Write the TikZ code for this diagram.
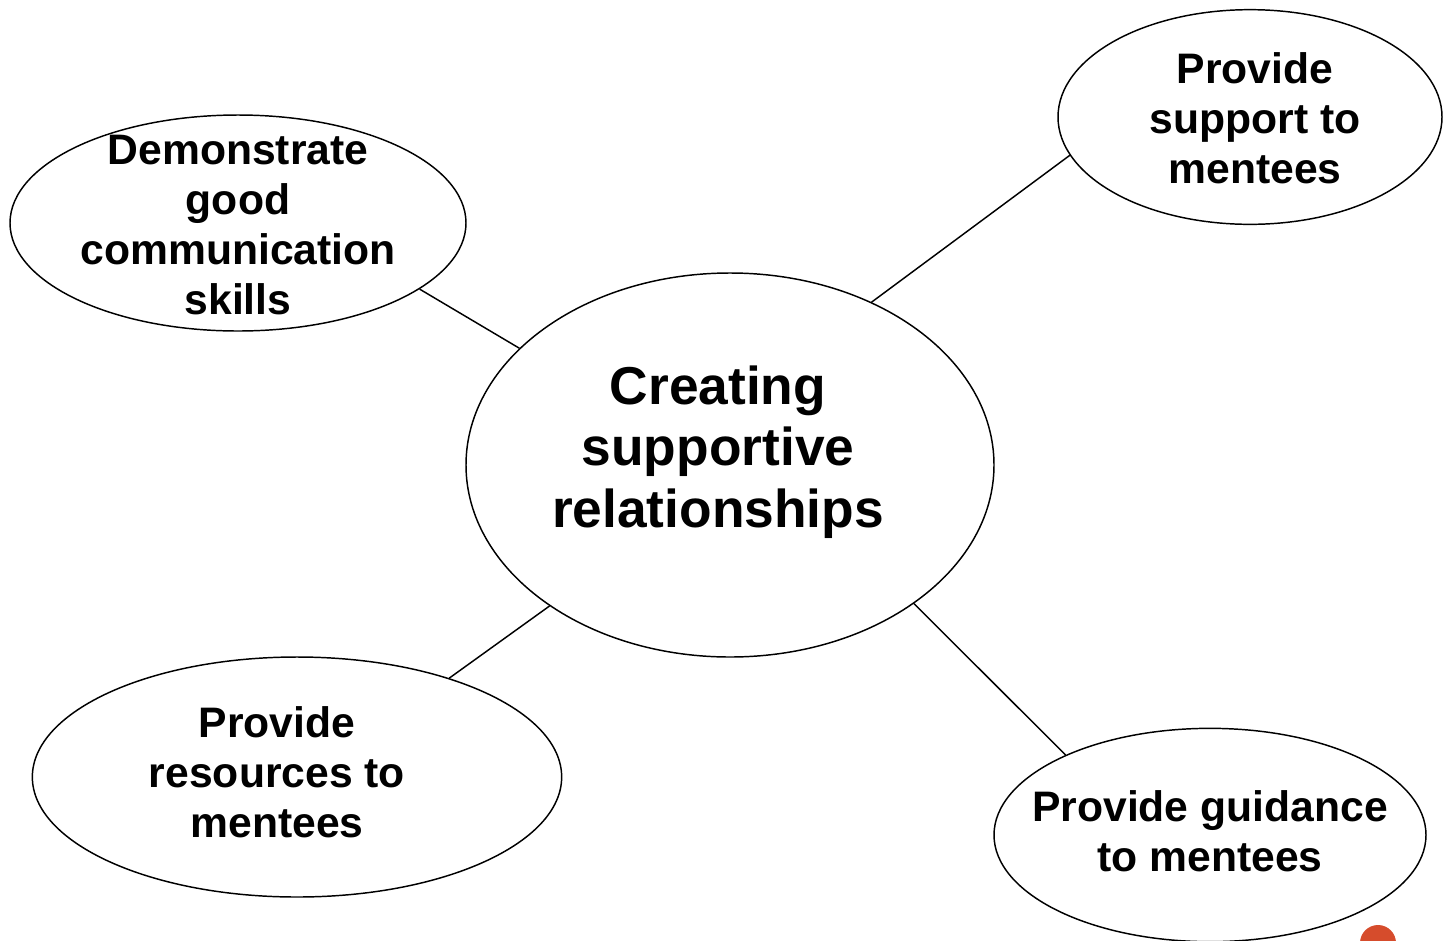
\documentclass[tikz,border=0pt]{standalone}
\usepackage{fontspec}
\setmainfont{Liberation Sans}
\usetikzlibrary{shapes.geometric}

\definecolor{dotred}{RGB}{214,76,44}

\tikzset{
  bubble/.style={draw, ellipse, line width=1.1pt, inner sep=0pt},
  caption/.style={font=\bfseries\fontsize{32}{37.5}\selectfont, align=center, inner sep=0pt},
  spoke/.style={line width=1.1pt}
}

\begin{document}
\begin{tikzpicture}[x=0.75pt,y=0.75pt,yscale=-1,xscale=1]
\useasboundingbox (0,0) rectangle (1453,940);

%Ellipses
\node [bubble, minimum width=396pt, minimum height=288pt] (hub) at (730,465) {};
\node [bubble, minimum width=342pt, minimum height=162pt] (demo) at (238,223) {};
\node [bubble, minimum width=288pt, minimum height=161pt] (support) at (1250,117) {};
\node [bubble, minimum width=397pt, minimum height=180pt] (resources) at (297,777) {};
\node [bubble, minimum width=324pt, minimum height=160pt] (guidance) at (1210,835) {};

%Text
\node [caption, font=\bfseries\fontsize{40}{46}\selectfont] (hubtext) at (718,452) {Creating\\supportive\\relationships};
\node [caption] (demotext) at (238,225) {Demonstrate\\good\\communication\\skills};
\node [caption] (supporttext) at (1255,118) {Provide\\support to\\mentees};
\node [caption] (resourcestext) at (277,772) {Provide\\resources to\\mentees};
\node [caption] (guidancetext) at (1210,831) {Provide guidance\\to mentees};

%Spokes
\draw [spoke] (demo.-20) -- (hub.151);
\draw [spoke] (hub.49) -- (support.192);
\draw [spoke] (resources.33) -- (hub.218);
\draw [spoke] (hub.-37) -- (guidance.151);

%Red dot in the corner
\fill [dotred] (1378,943) circle (18);

\end{tikzpicture}
\end{document}
